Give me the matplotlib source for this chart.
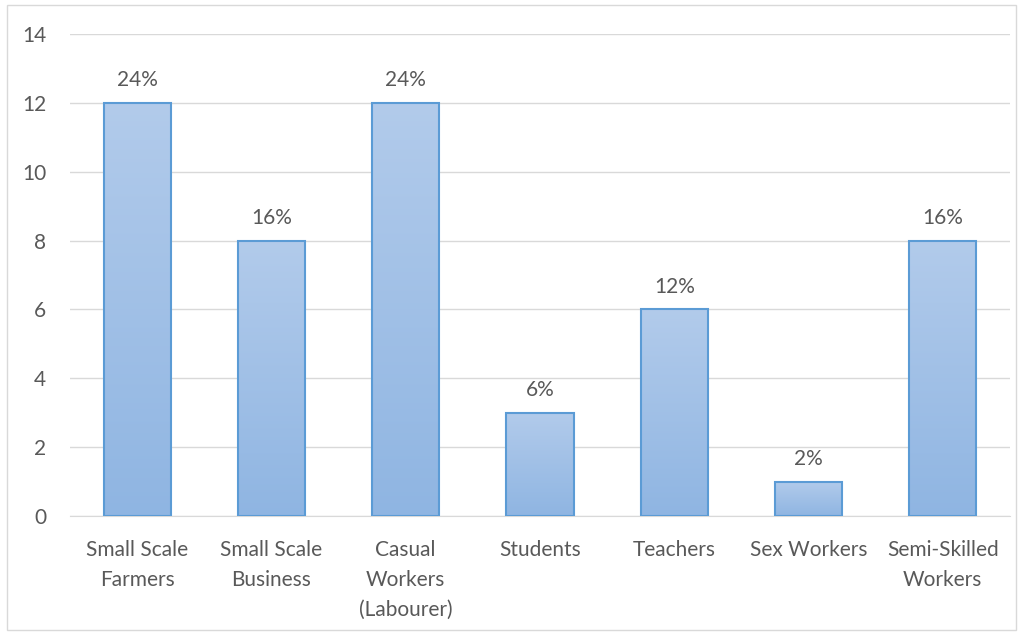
import matplotlib
matplotlib.use("Agg")
import matplotlib.pyplot as plt
import numpy as np
from matplotlib.patches import Rectangle

categories = ["Small Scale\nFarmers", "Small Scale\nBusiness", "Casual\nWorkers\n(Labourer)",
              "Students", "Teachers", "Sex Workers", "Semi-Skilled\nWorkers"]
values = [12, 8, 12, 3, 6, 1, 8]
labels = ["24%", "16%", "24%", "6%", "12%", "2%", "16%"]
yticks = [0, 2, 4, 6, 8, 10, 12, 14]

plt.rcParams['font.family'] = ['Lato', 'DejaVu Sans']
text_color = "#595959"

fig = plt.figure(figsize=(10.23, 6.34), dpi=100)
ax = fig.add_axes([70/1023, 1-516/634, 940/1023, 482/634])

# figure border
fig.patches.append(Rectangle((7/1023, 4/634), 1009/1023, 625/634, transform=fig.transFigure,
                             fill=False, edgecolor="#D9D9D9", linewidth=1))

x = np.arange(len(categories))
width = 0.5
top_c = np.array([178, 203, 235]) / 255
bot_c = np.array([143, 181, 226]) / 255
grad = np.linspace(0, 1, 256)[:, None, None]
img = top_c * (1 - grad) + bot_c * grad  # row 0 = top

ax.set_ylim(0, 14)
ax.set_yticks(yticks)
ax.grid(axis='y', color="#D9D9D9", linewidth=1)
ax.set_axisbelow(True)

bars = ax.bar(x, values, width=width, facecolor='none', edgecolor="#5B9BD5", linewidth=1.5, zorder=3)
for b in bars:
    x0, y0, w, h = b.get_x(), b.get_y(), b.get_width(), b.get_height()
    ax.imshow(img, extent=(x0, x0 + w, y0, y0 + h), origin='upper', aspect='auto', zorder=2)
ax.set_aspect('auto')
ax.set_xlim(-0.5, len(categories) - 0.5)
ax.set_ylim(0, 14)

for xi, v, lab in zip(x, values, labels):
    ax.annotate(lab, (xi, v), xytext=(0, 9), textcoords='offset points', ha='center', va='bottom',
                fontsize=15, color=text_color)

ax.set_xticks(x)
ax.set_xticklabels(categories, fontsize=15, color=text_color, linespacing=1.62)
ax.tick_params(axis='y', labelsize=15, labelcolor=text_color, length=0, pad=17)
ax.tick_params(axis='x', length=0, pad=17)
for s in ['top', 'right', 'left']:
    ax.spines[s].set_visible(False)
ax.spines['bottom'].set_color("#D9D9D9")

fig.savefig("out.png", dpi=100)
